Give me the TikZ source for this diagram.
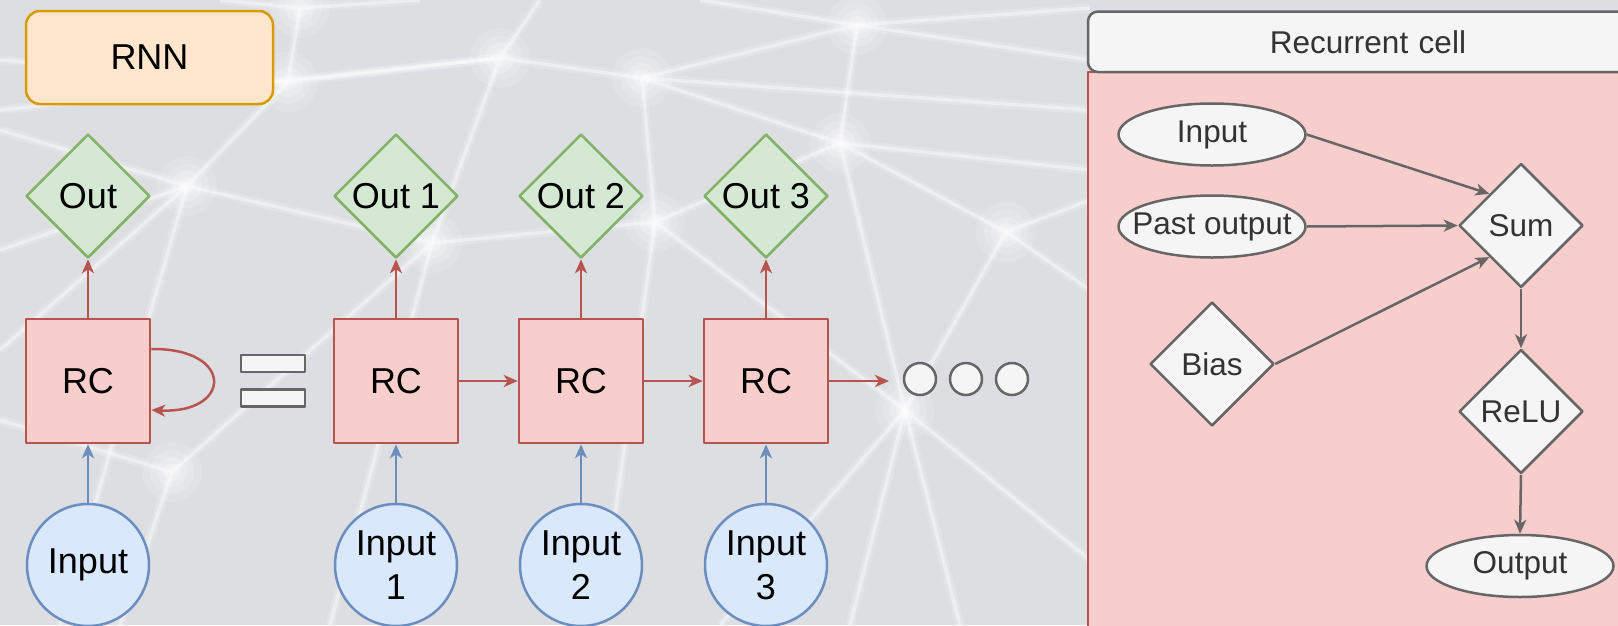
\documentclass[tikz,border=0pt]{standalone}
\usepackage{fontspec}
\setmainfont{Liberation Sans}
\usetikzlibrary{shapes.geometric,arrows.meta,calc}
\definecolor{bgc}{HTML}{DCDEE2}
\definecolor{rnnf}{HTML}{FFE6CC}
\definecolor{rnnd}{HTML}{D79B00}
\definecolor{gf}{HTML}{D5E8D4}
\definecolor{gd}{HTML}{82B366}
\definecolor{rf}{HTML}{F8CECC}
\definecolor{rd}{HTML}{B85450}
\definecolor{bf}{HTML}{DAE8FC}
\definecolor{bd}{HTML}{6C8EBF}
\definecolor{lg}{HTML}{F5F5F5}
\definecolor{gr}{HTML}{666666}
\definecolor{tx}{HTML}{333333}
\newcommand\zw[1]{\makebox[0pt][c]{#1}}
\begin{document}
\begin{tikzpicture}[x=1pt,y=-1pt,line join=round,
  lefttxt/.style={font=\fontsize{36}{44}\selectfont,text=black},
  righttxt/.style={font=\fontsize{31.5}{38}\selectfont,text=tx},
  rnnbox/.style={rectangle,draw=rnnd,fill=rnnf,line width=2.5pt,rounded corners=14pt,minimum width=247pt,minimum height=93pt,inner sep=0pt,lefttxt},
  outd/.style={diamond,draw=gd,fill=gf,line width=2.5pt,minimum width=124pt,minimum height=124pt,inner sep=0pt,lefttxt},
  rcbox/.style={rectangle,draw=rd,fill=rf,line width=2.5pt,minimum width=124pt,minimum height=124pt,inner sep=0pt,lefttxt},
  inc/.style={circle,draw=bd,fill=bf,line width=2.5pt,minimum size=122pt,inner sep=0pt,align=center,lefttxt},
  tipa/.style={-{Stealth[length=14pt,width=12pt,inset=4pt]}},
  redarr/.style={draw=rd,line width=2.5pt,tipa},
  bluearr/.style={draw=bd,line width=2.5pt,tipa},
  grayarr/.style={draw=gr,line width=2.5pt,tipa},
  eqbar/.style={rectangle,draw=gr,fill=lg,line width=2.5pt,minimum width=64pt,minimum height=17pt,inner sep=0pt},
  dotc/.style={circle,draw=gr,fill=lg,line width=2.5pt,minimum size=32pt,inner sep=0pt},
  gell/.style={ellipse,draw=gr,fill=lg,line width=2.5pt,minimum width=187pt,minimum height=62pt,inner sep=0pt,righttxt},
  gdia/.style={diamond,draw=gr,fill=lg,line width=2.5pt,minimum width=124pt,minimum height=124pt,inner sep=0pt,righttxt},
  netwide/.style={white,opacity=0.18,line width=9pt},
  netline/.style={white,opacity=0.4,line width=3.5pt},
]
\useasboundingbox (0,0) rectangle (1618,625);
\clip (0,0) rectangle (1618,625);
\fill[bgc] (0,0) rectangle (1618,625);
% background network
\coordinate (n1) at (500,58);
\coordinate (n2) at (642,78);
\coordinate (n3) at (857,25);
\coordinate (n4) at (840,143);
\coordinate (n5) at (187,186);
\coordinate (n6) at (1006,232);
\coordinate (n7) at (655,222);
\coordinate (n8) at (432,243);
\coordinate (n9) at (905,410);
\coordinate (n10) at (172,472);
\coordinate (n11) at (288,82);
\coordinate (n12) at (300,8);
\foreach \s in {netwide,netline}{
\foreach \a/\b in {n1/n2,n1/n11,n1/n8,n2/n3,n2/n4,n2/n7,n3/n4,n4/n6,n4/n7,n4/n9,n5/n11,n5/n8,n6/n9,n7/n8,n7/n9,n8/n10,n11/n12}
  \draw[\s] (\a) -- (\b);
\foreach \a/\p in {n1/{(0,110)},n1/{(540,0)},n2/{(1090,110)},n3/{(700,0)},n3/{(1090,60)},n3/{(1090,8)},n4/{(1090,170)},n5/{(0,250)},n5/{(0,130)},n5/{(0,350)},n5/{(60,625)},n6/{(1090,290)},n6/{(1090,200)},n7/{(600,625)},n8/{(330,625)},n9/{(850,625)},n9/{(960,625)},n9/{(1090,560)},n9/{(720,625)},n10/{(0,420)},n10/{(120,625)},n11/{(0,60)},n12/{(220,0)},n12/{(420,0)}}
  \draw[\s] (\a) -- \p;
}
\foreach \n in {n1,n2,n3,n4,n5,n6,n7,n8,n9,n10,n11,n12}{
  \fill[white,opacity=0.12] (\n) circle (30);
  \fill[white,opacity=0.15] (\n) circle (22);
  \fill[white,opacity=0.2] (\n) circle (15);
  \fill[white,opacity=0.25] (\n) circle (9);
}
% left diagram
\node[rnnbox] (rnn) at (149.5,57.5) {RNN};
\foreach \i/\x in {0/88,1/396,2/581,3/766}{
  \node[rcbox] (rc\i) at (\x,381) {RC};
}
\node[outd] (out0) at (88,196) {\zw{Out}};
\node[outd] (out1) at (396,196) {\zw{Out 1}};
\node[outd] (out2) at (581,196) {\zw{Out 2}};
\node[outd] (out3) at (766,196) {\zw{Out 3}};
\node[inc] (in0) at (88,565) {Input};
\node[inc] (in1) at (396,565) {Input\\1};
\node[inc] (in2) at (581,565) {Input\\2};
\node[inc] (in3) at (766,565) {Input\\3};
\foreach \i in {0,1,2,3}{
  \draw[redarr] (rc\i.north) -- (out\i.south);
  \draw[bluearr] (in\i.north) -- (rc\i.south);
}
\draw[redarr] ([yshift=32pt]rc0.east) .. controls (235,348) and (232,414) .. ([yshift=-29pt]rc0.east);
\node[eqbar] (eqtop) at (273,363.5) {};
\node[eqbar] (eqbot) at (273,398) {};
\draw[redarr] (rc1.east) -- (rc2.west);
\draw[redarr] (rc2.east) -- (rc3.west);
\coordinate (dotsin) at (889,381);
\draw[redarr] (rc3.east) -- (dotsin);
\node[dotc] (dot1) at (920,379) {};
\node[dotc] (dot2) at (966,379) {};
\node[dotc] (dot3) at (1012,379) {};
% right panel
\draw[draw=rd,fill=rf,line width=2pt] (1088,72) rectangle (1660,700);
\node[rectangle,rounded corners=10pt,draw=gr,fill=lg,line width=2.5pt,minimum width=572pt,minimum height=60.5pt,inner sep=0pt,righttxt,text width=560pt,align=center] (hdr) at (1374,41.75) {\hspace*{-12pt}Recurrent cell};
\node[gell] (pin) at (1212,134.5) {\zw{Input}};
\node[gell] (past) at (1212,226.5) {\zw{Past output}};
\node[gdia] (sum) at (1521,225.5) {\zw{Sum}};
\node[gdia] (bias) at (1212,364) {\zw{Bias}};
\node[gdia] (relu) at (1521,411.5) {\zw{ReLU}};
\node[gell] (pout) at (1520,566) {\zw{Output}};
\draw[grayarr] (pin.east) -- (sum.north west);
\draw[grayarr] (past.east) -- (sum.west);
\draw[grayarr] (bias.east) -- (sum.south west);
\draw[grayarr] (sum.south) -- (relu.north);
\draw[grayarr] (relu.south) -- (pout.north);
\end{tikzpicture}
\end{document}
